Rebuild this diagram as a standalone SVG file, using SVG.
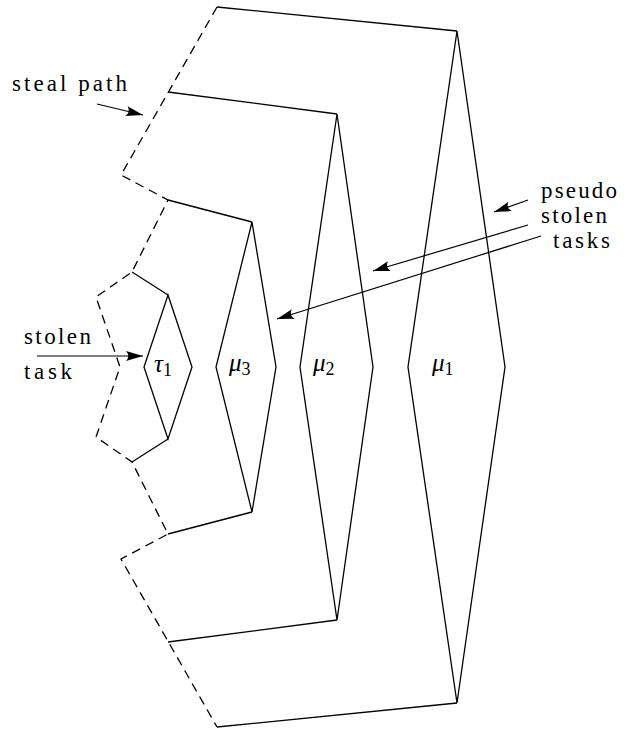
<svg xmlns="http://www.w3.org/2000/svg" width="624" height="730" viewBox="0 0 624 730">
<style>
.ln{fill:none;stroke:#000;stroke-width:1.3;stroke-linejoin:miter}
.dash{fill:none;stroke:#000;stroke-width:1.3;stroke-dasharray:9 6}
.arr{fill:none;stroke:#000;stroke-width:1.2}
.t{font-size:23px}
.m{font-size:25px;font-style:italic}
.s{font-size:18px}
</style>
<defs>
<marker id="ah" markerUnits="userSpaceOnUse" markerWidth="20" markerHeight="14" refX="17" refY="7" orient="auto" overflow="visible">
<path d="M17,7 L0,2 Q4.5,7 0,12 Z" fill="#000"/>
</marker>
</defs>
<rect width="624" height="730" fill="#fff"/>
<g id="connectors">
<polyline class="ln" points="217,7 457,31"/>
<polyline class="ln" points="217,727 457,703"/>
<polyline class="ln" points="168,92 337,114"/>
<polyline class="ln" points="168,642 337,620"/>
<polyline class="ln" points="168,200 252,222"/>
<polyline class="ln" points="168,534 252,512"/>
<polyline class="ln" points="132,272 168,295"/>
<polyline class="ln" points="132,462 168,439"/>
<polyline id="steal-path" class="dash" points="217,7 121,175 168,200 132,272 96,297 120,367 96,437 132,462 168,534 121,559 217,727"/>
<line class="arr" x1="97" y1="104" x2="143" y2="115" marker-end="url(#ah)"/>
<line class="arr" x1="37" y1="356" x2="143" y2="356" marker-end="url(#ah)"/>
<line class="arr" x1="528" y1="200" x2="494" y2="212" marker-end="url(#ah)"/>
<line class="arr" x1="528" y1="225" x2="373" y2="271" marker-end="url(#ah)"/>
<line class="arr" x1="541" y1="236" x2="277" y2="319" marker-end="url(#ah)"/>
</g>
<g font-family="Liberation Serif, DejaVu Serif, serif" fill="#000">
<g id="tau1">
<polygon class="ln" points="168,295 192,367 168,439 144,367"/>
<text x="154" y="372"><tspan class="m">τ</tspan><tspan class="s" dy="4">1</tspan></text>
</g>
<g id="mu3">
<polygon class="ln" points="252,222 276,367 252,512 216,367"/>
<text x="229" y="371"><tspan class="m">μ</tspan><tspan class="s" dy="4">3</tspan></text>
</g>
<g id="mu2">
<polygon class="ln" points="337,114 373,367 337,620 300,367"/>
<text x="313" y="371"><tspan class="m">μ</tspan><tspan class="s" dy="4">2</tspan></text>
</g>
<g id="mu1">
<polygon class="ln" points="457,31 505,367 457,703 408,367"/>
<text x="432" y="371"><tspan class="m">μ</tspan><tspan class="s" dy="4">1</tspan></text>
</g>
<g id="labels">
<text class="t" x="12" y="91" textLength="115" lengthAdjust="spacing">steal path</text>
<text class="t" x="541" y="198" textLength="76" lengthAdjust="spacing">pseudo</text>
<text class="t" x="541" y="223" textLength="66" lengthAdjust="spacing">stolen</text>
<text class="t" x="553" y="248" textLength="57" lengthAdjust="spacing">tasks</text>
<text class="t" x="24" y="344" textLength="67" lengthAdjust="spacing">stolen</text>
<text class="t" x="24" y="379" textLength="48" lengthAdjust="spacing">task</text>
</g>
</g>
</svg>
